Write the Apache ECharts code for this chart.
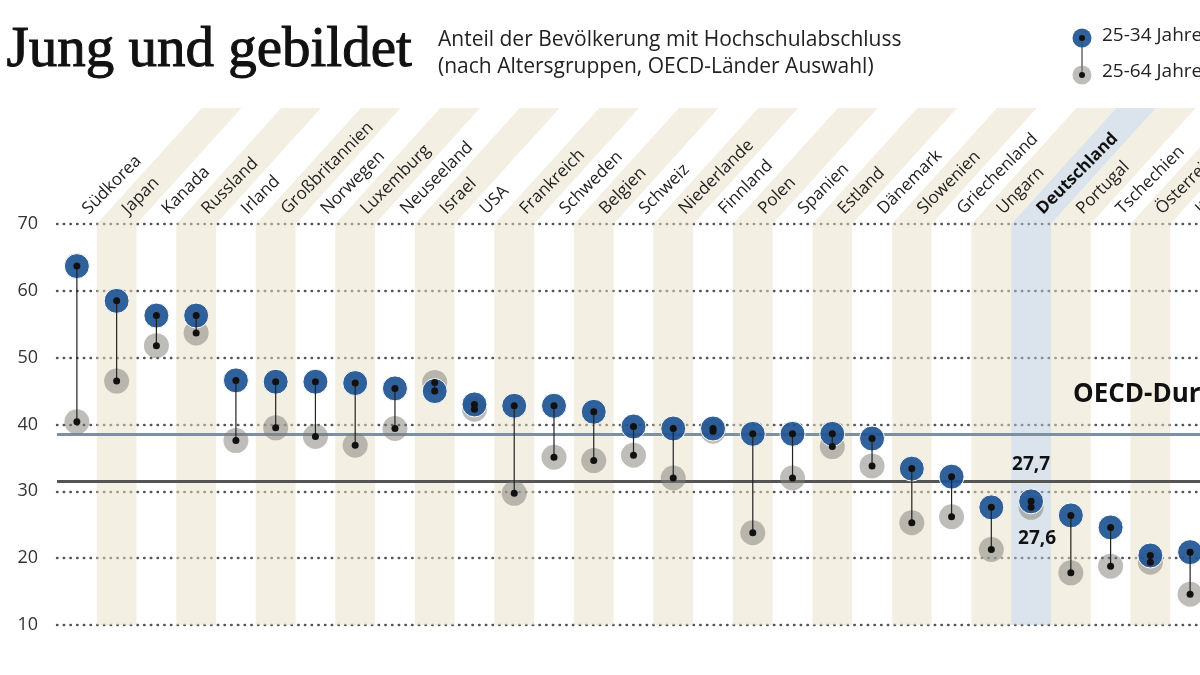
<!DOCTYPE html>
<html>
<head>
<meta charset="utf-8">
<title>Jung und gebildet</title>
<script src="https://cdn.jsdelivr.net/npm/echarts@6/dist/echarts.min.js"></script>
<style>
    html, body { margin: 0; padding: 0; background: #fff; }
    #chart { width: 1200px; height: 675px; }
</style>
</head>
<body>
<div id="chart"></div>
<script>
// Anteil der Bevölkerung mit Hochschulabschluss, in Prozent
var countries = ['Südkorea', 'Japan', 'Kanada', 'Russland', 'Irland', 'Großbritannien', 'Norwegen',
    'Luxemburg', 'Neuseeland', 'Israel', 'USA', 'Frankreich', 'Schweden', 'Belgien', 'Schweiz',
    'Niederlande', 'Finnland', 'Polen', 'Spanien', 'Estland', 'Dänemark', 'Slowenien', 'Griechenland',
    'Ungarn', 'Deutschland', 'Portugal', 'Tschechien', 'Österreich', 'Italien'];
var young = [63.7, 58.5, 56.3, 56.3, 46.6, 46.4, 46.4, 46.2, 45.4, 45.0, 43.0, 42.8, 42.8, 41.9, 39.7,
    39.4, 39.4, 38.6, 38.6, 38.6, 37.9, 33.4, 32.2, 27.6, 28.5, 26.4, 24.6, 20.4, 20.9];
var adult = [40.4, 46.5, 51.8, 53.7, 37.6, 39.5, 38.2, 36.9, 39.4, 46.3, 42.3, 29.7, 35.1, 34.6, 35.4,
    32.0, 39.0, 23.8, 32.0, 36.7, 33.8, 25.3, 26.2, 21.3, 27.6, 17.8, 18.8, 19.4, 14.6];
var oecdYoung = 38.6;
var oecdAdult = 31.5;
var highlight = 'Deutschland';
var highlightLabels = ['27,7', '27,6'];
var yMin = 10, yMax = 70, yStep = 10;

var blue = 'rgba(32,84,146,0.92)';
var grey = 'rgba(125,123,118,0.5)';
var beige = 'rgba(231,223,197,0.5)';
var lightBlue = 'rgba(184,201,218,0.5)';
var font = '"Open Sans", "Noto Sans", sans-serif';

var slantRise = 116;   // Schräge der Streifen über dem Diagramm
var slantRun = 105;

var stripeData = [];
countries.forEach(function (c, i) {
    if (c === highlight) {
        stripeData.push({ value: [i], itemStyle: { color: lightBlue } });
    } else if (i % 2 === 1) {
        stripeData.push({ value: [i], itemStyle: { color: beige } });
    }
});

var youngData = young.map(function (v, i) {
    if (countries[i] === highlight) {
        return {
            value: [i, v],
            label: { show: true, position: 'top', distance: 14, formatter: highlightLabels[0] }
        };
    }
    return [i, v];
});
var adultData = adult.map(function (v, i) {
    if (countries[i] === highlight) {
        return {
            value: [i, v],
            label: { show: true, position: 'bottom', distance: 9, offset: [6, 0], formatter: highlightLabels[1] }
        };
    }
    return [i, v];
});
var pairData = young.map(function (v, i) {
    return [i, v, adult[i]];
});
var centerData = young.map(function (v, i) { return [i, v]; })
    .concat(adult.map(function (v, i) { return [i, v]; }));

var myChart = echarts.init(document.getElementById('chart'));
var option = {
    backgroundColor: '#fff',
    animation: false,
    grid: {
        left: 57,
        right: -10,
        top: 224,
        bottom: 50,
        outerBoundsMode: 'none',
        containLabel: false
    },
    xAxis: {
        type: 'category',
        position: 'top',
        z: 20,
        data: countries,
        axisLine: { show: false },
        axisTick: { show: false },
        axisLabel: {
            interval: 0,
            rotate: -45,
            margin: 4,
            padding: [0, 0, 0, 12],
            fontFamily: font,
            fontSize: 17,
            color: '#222',
            formatter: function (v) {
                return v === highlight ? '{b|' + v + '}' : v;
            },
            rich: {
                b: { fontFamily: font, fontSize: 17, fontWeight: 'bold', color: '#111' }
            }
        }
    },
    yAxis: {
        type: 'value',
        min: yMin,
        max: yMax,
        interval: yStep,
        axisLine: { show: false },
        axisTick: { show: false },
        axisLabel: {
            margin: 19,
            fontFamily: font,
            fontSize: 18,
            color: '#333'
        },
        splitLine: {
            lineStyle: { color: '#555', width: 2.4, type: [0.5, 6.2], cap: 'round' }
        }
    },
    series: [
        {
            // Streifen hinter den Ländern
            type: 'custom',
            z: 1,
            clip: false,
            silent: true,
            data: stripeData,
            renderItem: function (params, api) {
                var i = api.value(0);
                var top = api.coord([i, yMax]);
                var bot = api.coord([i, yMin]);
                var w = api.size([1, 0])[0] / 2;
                var x = top[0];
                return {
                    type: 'polygon',
                    shape: {
                        points: [
                            [x - w, bot[1]], [x + w, bot[1]], [x + w, top[1]],
                            [x + w + slantRun, top[1] - slantRise], [x - w + slantRun, top[1] - slantRise],
                            [x - w, top[1]]
                        ]
                    },
                    style: { fill: api.visual('color') }
                };
            },
            markLine: {
                silent: true,
                symbol: 'none',
                label: { show: false },
                data: [
                    { yAxis: oecdYoung, lineStyle: { color: '#7a90a3', width: 3, type: 'solid' } },
                    { yAxis: oecdAdult, lineStyle: { color: '#555', width: 3, type: 'solid' } }
                ]
            }
        },
        {
            name: '25-64 Jahre',
            type: 'scatter',
            z: 10,
            symbolSize: 25,
            itemStyle: { color: grey, opacity: 1 },
            label: { fontFamily: font, fontSize: 19, fontWeight: 'bold', color: '#111' },
            data: adultData
        },
        {
            name: '25-34 Jahre',
            type: 'scatter',
            z: 11,
            symbolSize: 25,
            itemStyle: { color: blue, opacity: 1, borderColor: '#fff', borderWidth: 1 },
            label: { fontFamily: font, fontSize: 19, fontWeight: 'bold', color: '#111' },
            data: youngData
        },
        {
            // Verbindungslinien
            type: 'custom',
            z: 12,
            silent: true,
            data: pairData,
            renderItem: function (params, api) {
                var a = api.coord([api.value(0), api.value(1)]);
                var b = api.coord([api.value(0), api.value(2)]);
                return {
                    type: 'line',
                    shape: { x1: a[0], y1: a[1], x2: b[0], y2: b[1] },
                    style: { stroke: '#222', lineWidth: 1.2 }
                };
            }
        },
        {
            type: 'scatter',
            z: 13,
            silent: true,
            symbolSize: 7,
            itemStyle: { color: '#111', opacity: 1 },
            data: centerData
        }
    ],
    graphic: {
        elements: [
            {
                type: 'text', left: 6, top: 22, z: 100,
                style: {
                    text: 'Jung und gebildet',
                    font: '57px "Liberation Serif", "DejaVu Serif", serif',
                    fill: '#111', stroke: '#111', lineWidth: 1
                }
            },
            {
                type: 'text', left: 438, top: 27, z: 100,
                style: {
                    text: 'Anteil der Bevölkerung mit Hochschulabschluss\n(nach Altersgruppen, OECD-Länder Auswahl)',
                    font: '21px ' + font,
                    lineHeight: 27,
                    fill: '#222'
                }
            },
            { type: 'line', z: 100, shape: { x1: 1082, y1: 38, x2: 1082, y2: 75 }, style: { stroke: '#444', lineWidth: 1.2 } },
            { type: 'circle', z: 100, shape: { cx: 1082, cy: 38, r: 9.5 }, style: { fill: blue } },
            { type: 'circle', z: 100, shape: { cx: 1082, cy: 75, r: 9.5 }, style: { fill: grey } },
            { type: 'circle', z: 101, shape: { cx: 1082, cy: 38, r: 3 }, style: { fill: '#111' } },
            { type: 'circle', z: 101, shape: { cx: 1082, cy: 75, r: 3 }, style: { fill: '#111' } },
            {
                type: 'text', left: 1102, top: 26, z: 100,
                style: { text: '25-34 Jahre', font: '19px ' + font, fill: '#222' }
            },
            {
                type: 'text', left: 1102, top: 62, z: 100,
                style: { text: '25-64 Jahre', font: '19px ' + font, fill: '#222' }
            },
            {
                type: 'text', left: 1073, top: 382, z: 100,
                style: { text: 'OECD-Durchschnitt', font: 'bold 26px ' + font, fill: '#111' }
            }
        ]
    }
};

myChart.setOption(option);
</script>
</body>
</html>
